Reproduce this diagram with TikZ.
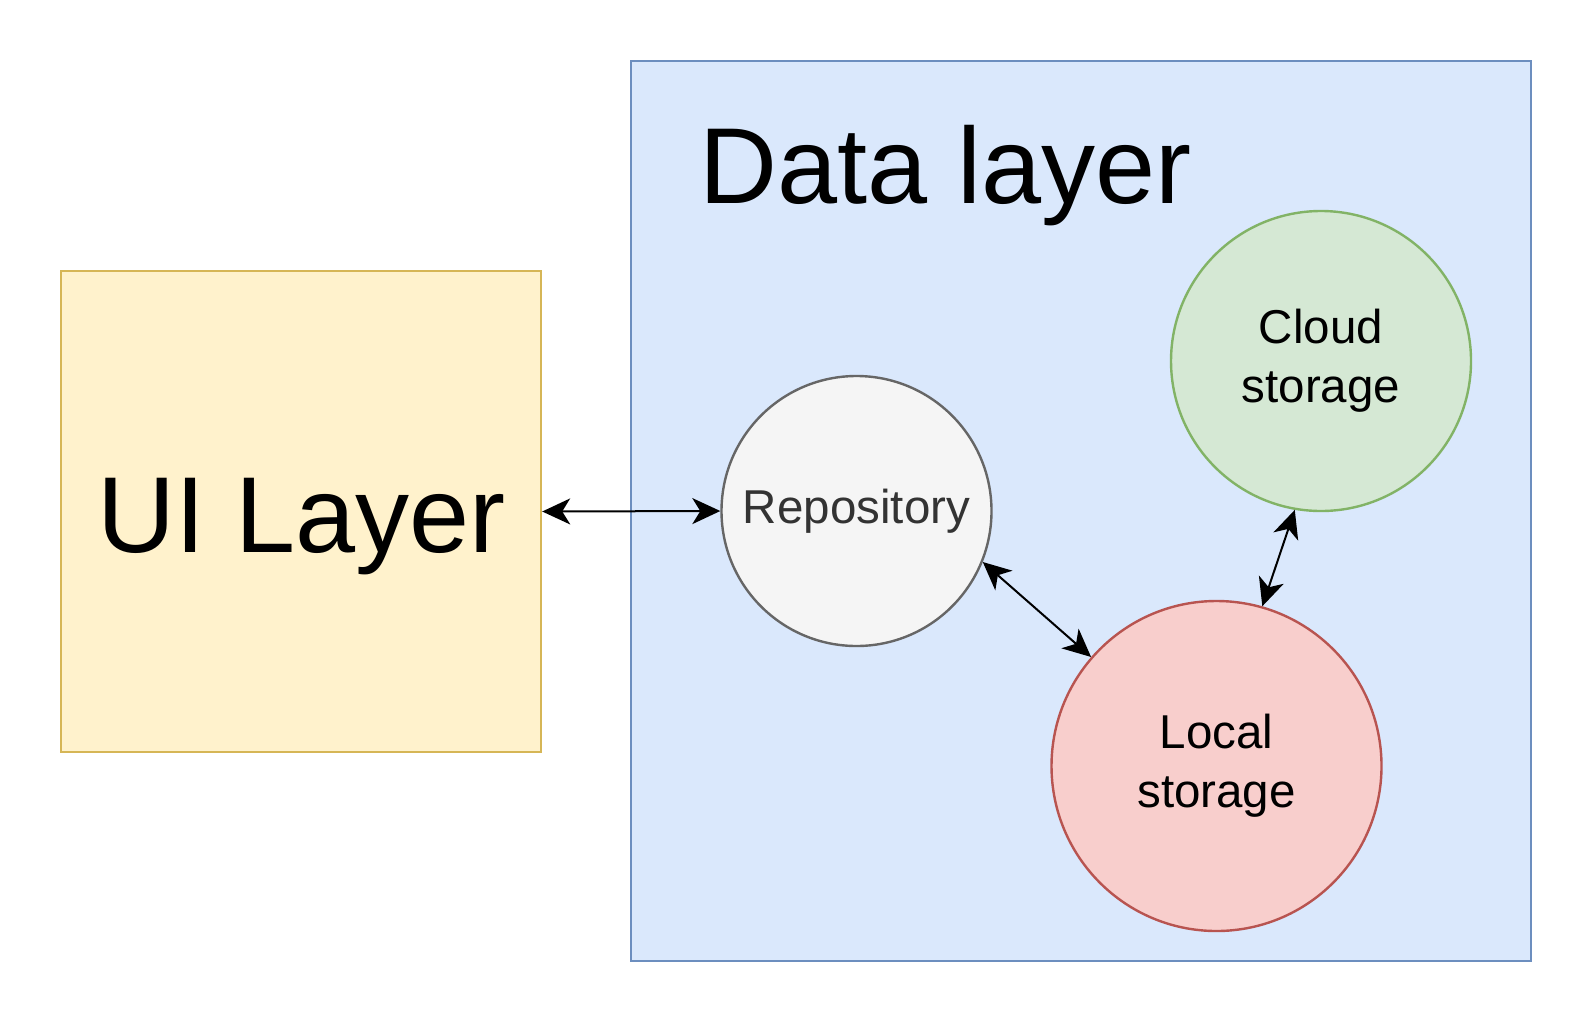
\documentclass[tikz,border=0pt]{standalone}
\usepackage{fontspec}
\setmainfont{Liberation Sans}
\usetikzlibrary{arrows.meta}
\definecolor{uifill}{HTML}{FFF2CC}
\definecolor{uistroke}{HTML}{D6B656}
\definecolor{datafill}{HTML}{DAE8FC}
\definecolor{datastroke}{HTML}{6C8EBF}
\definecolor{repofill}{HTML}{F5F5F5}
\definecolor{repostroke}{HTML}{666666}
\definecolor{repotext}{HTML}{333333}
\definecolor{cloudfill}{HTML}{D5E8D4}
\definecolor{cloudstroke}{HTML}{82B366}
\definecolor{localfill}{HTML}{F8CECC}
\definecolor{localstroke}{HTML}{B85450}
\tikzset{
  bigtext/.style={font=\fontsize{54pt}{64.8pt}\selectfont, inner sep=0pt},
  smalltext/.style={font=\fontsize{23.75pt}{29.5pt}\selectfont, align=center},
  layerbox/.style={rectangle, line width=1.2pt, inner sep=0pt},
  storecircle/.style={circle, line width=1.2pt, inner sep=0pt, smalltext},
  link/.style={line width=1pt, {Stealth[length=14pt,width=13pt,inset=4pt]}-{Stealth[length=14pt,width=13pt,inset=4pt]}}
}
\begin{document}
\begin{tikzpicture}[x=0.5pt,y=-0.5pt]
\fill[white] (0,0) rectangle (1593,1023);
\useasboundingbox (0,0) rectangle (1593,1023);
% UI layer
\node[layerbox, draw=uistroke, fill=uifill, minimum width=240pt, minimum height=240.5pt] (ui) at (301,511.5) {};
\node[bigtext, anchor=base] (uit) at (302,552) {UI Layer};
% Data layer
\node[layerbox, draw=datastroke, fill=datafill, minimum width=450pt, minimum height=450pt] (data) at (1081,511) {};
\node[bigtext, anchor=base] (dt) at (946,203) {Data layer};
% circles
\node[storecircle, draw=repostroke, fill=repofill, text=repotext, minimum size=135pt] (repo) at (856.5,511) {Repository};
\node[storecircle, draw=cloudstroke, fill=cloudfill, minimum size=150pt] (cloud) at (1321,361) {Cloud\\storage};
\node[storecircle, draw=localstroke, fill=localfill, minimum size=165pt] (local) at (1216.5,766) {Local\\storage};
% connectors
\draw[link] (ui.east) -- (repo.west);
\draw[link] (repo.-22) -- (local.139);
\draw[link] (cloud.260) -- (local.74);
\end{tikzpicture}
\end{document}
